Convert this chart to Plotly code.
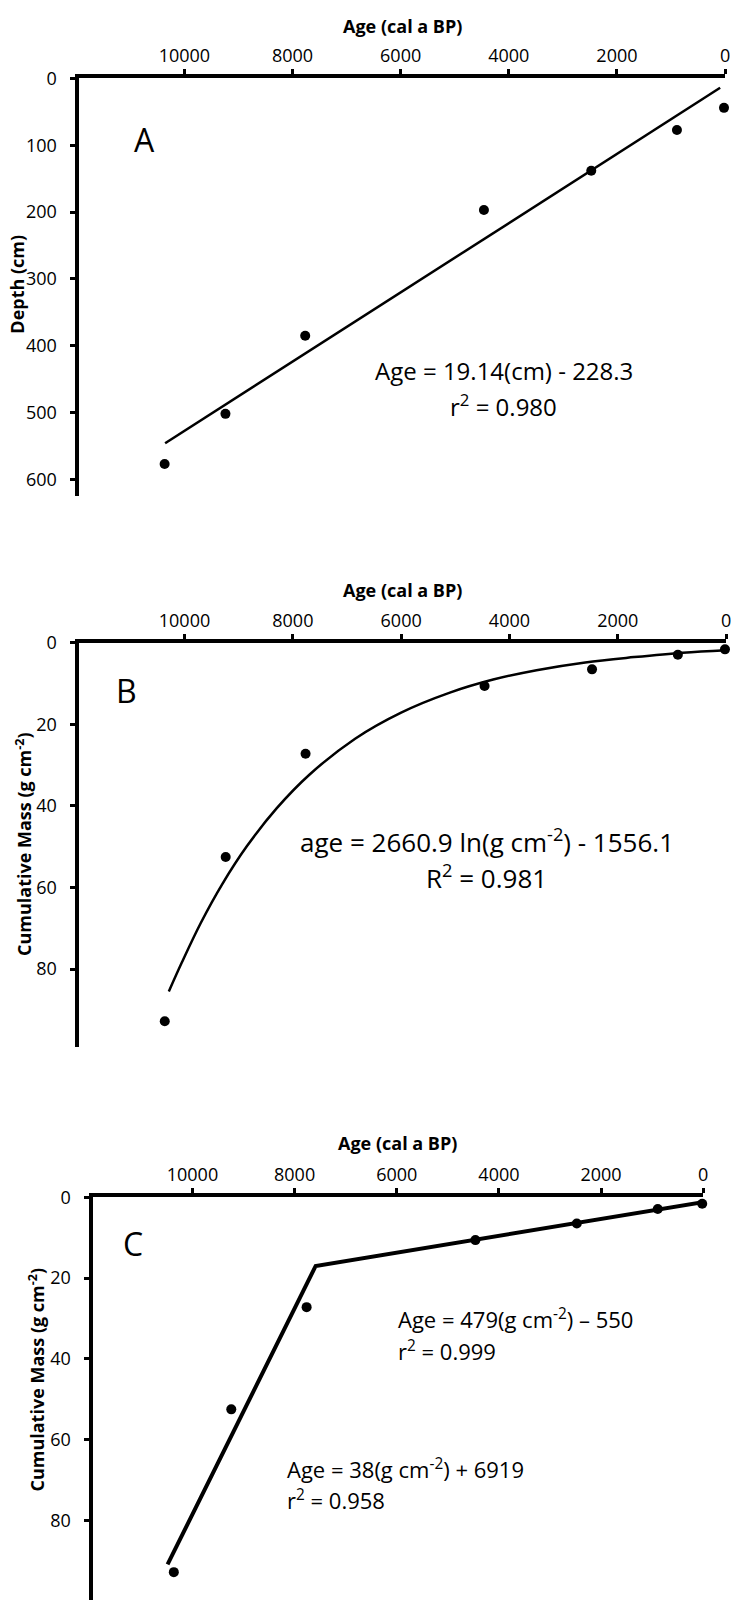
import plotly.graph_objects as go

# ---------------- data ----------------
ages = [10365, 9240, 7765, 4460, 2475, 890, 20]          # cal a BP
depth_cm = [577, 502, 385, 197, 138, 77, 44]              # panel A
cum_mass = [92.8, 52.5, 27.2, 10.6, 6.5, 2.9, 1.6]        # panels B and C

# panel A: linear fit line (end points)
fitA_age = [10356, 91]
fitA_depth = [546, 14]

# panel B: logarithmic trend curve
fitB_age = [10290, 10050, 9700, 9300, 8850, 8300, 7700, 6850, 6000,
            5100, 4300, 3500, 2600, 1700, 800, 0]
fitB_mass = [85.5, 78.4, 68.7, 59.1, 49.9, 40.6, 32.4, 23.5, 17.1,
             12.2, 9.0, 6.7, 4.8, 3.5, 2.4, 1.8]

# panel C: two-segment fit
fitC_age = [10487, 7588, -40]
fitC_mass = [90.9, 17.0, 1.1]

x_tickvals = [10000, 8000, 6000, 4000, 2000, 0]
yA_tickvals = [0, 100, 200, 300, 400, 500, 600]
yBC_tickvals = [0, 20, 40, 60, 80]

# ---------------- layout helpers ----------------
W, H = 741, 1600
FONT = "Open Sans"


def px_x(p):
    return p / W


def px_y(p):
    return 1 - p / H


fig = go.Figure()

mk = dict(color="black", size=10)

# Panel A
fig.add_trace(go.Scatter(x=fitA_age, y=fitA_depth, mode="lines",
                         line=dict(color="black", width=2.5),
                         xaxis="x", yaxis="y", showlegend=False))
fig.add_trace(go.Scatter(x=ages, y=depth_cm, mode="markers", marker=mk,
                         cliponaxis=False, xaxis="x", yaxis="y", showlegend=False))
# Panel B
fig.add_trace(go.Scatter(x=fitB_age, y=fitB_mass, mode="lines",
                         line=dict(color="black", width=2.5, shape="spline",
                                   smoothing=1.0),
                         xaxis="x2", yaxis="y2", showlegend=False))
fig.add_trace(go.Scatter(x=ages, y=cum_mass, mode="markers", marker=mk,
                         cliponaxis=False, xaxis="x2", yaxis="y2", showlegend=False))
# Panel C
fig.add_trace(go.Scatter(x=fitC_age, y=fitC_mass, mode="lines",
                         line=dict(color="black", width=4),
                         xaxis="x3", yaxis="y3", showlegend=False))
fig.add_trace(go.Scatter(x=ages, y=cum_mass, mode="markers", marker=mk,
                         cliponaxis=False, xaxis="x3", yaxis="y3", showlegend=False))

tickfont = dict(family=FONT, size=18, color="black")


def xaxis_cfg(left, right, anchor):
    return dict(domain=[px_x(left), px_x(right)], range=[11940, 0],
                autorange=False, side="top", anchor=anchor,
                tickvals=x_tickvals, ticktext=[str(v) for v in x_tickvals],
                showline=True, linecolor="black", linewidth=4,
                ticks="outside", ticklen=5, tickwidth=3, tickcolor="black",
                showgrid=False, zeroline=False, tickfont=tickfont)


def yaxis_cfg(top, bottom, rng, tickvals, anchor):
    return dict(domain=[px_y(bottom), px_y(top)], range=rng, autorange=False,
                anchor=anchor, tickvals=tickvals,
                ticktext=[str(v) for v in tickvals],
                showline=True, linecolor="black", linewidth=4,
                ticks="outside", ticklen=5, tickwidth=3, tickcolor="black",
                showgrid=False, zeroline=False, tickfont=tickfont,
                ticklabelstandoff=10)


fig.update_layout(
    width=W, height=H,
    margin=dict(l=0, r=0, t=0, b=0),
    paper_bgcolor="white", plot_bgcolor="white",
    font=dict(family=FONT, color="black"),
    xaxis=xaxis_cfg(80, 730, "y"),
    yaxis=yaxis_cfg(66, 487, [625, 0], yA_tickvals, "x"),
    xaxis2=xaxis_cfg(80, 731, "y2"),
    yaxis2=yaxis_cfg(635, 1042, [99, 0], yBC_tickvals, "x2"),
    xaxis3=xaxis_cfg(94, 708, "y3"),
    yaxis3=yaxis_cfg(1194, 1600, [99.7, 0], yBC_tickvals, "x3"),
)

ann = []


def text(x, y, s, size, xanchor="center", bold=False, angle=0, align="center"):
    ann.append(dict(x=px_x(x), y=px_y(y), xref="paper", yref="paper",
                    text=("<b>%s</b>" % s) if bold else s, showarrow=False,
                    xanchor=xanchor, yanchor="middle", textangle=angle,
                    align=align,
                    font=dict(family=FONT, size=size, color="black")))


# axis titles
text(405, 13, "Age (cal a BP)", 18, bold=True)
text(405, 582, "Age (cal a BP)", 18, bold=True)
text(400, 1139, "Age (cal a BP)", 18, bold=True)
text(17, 273, "Depth (cm)", 18, bold=True, angle=-90)
text(24, 838, "Cumulative Mass (g cm<sup>-2</sup>)", 18, bold=True, angle=-90)
text(37, 1378, "Cumulative Mass (g cm<sup>-2</sup>)", 18, bold=True, angle=-90)

# panel letters
text(145, 128, "A", 32)
text(127, 683, "B", 32)
text(134, 1241, "C", 32)

# equations
text(507, 360, "Age = 19.14(cm) - 228.3", 24)
text(507, 396, "r<sup>2</sup> = 0.980", 24)
text(490, 835, "age = 2660.9 ln(g cm<sup>-2</sup>) - 1556.1", 26)
text(490, 871, "R<sup>2</sup> = 0.981", 26)
text(399, 1316, "Age = 479(g cm<sup>-2</sup>) \u2013 550", 22, xanchor="left")
text(399, 1348, "r<sup>2</sup> = 0.999", 22, xanchor="left")
text(287, 1467, "Age = 38(g cm<sup>-2</sup>) + 6919", 22, xanchor="left")
text(287, 1499, "r<sup>2</sup> = 0.958", 22, xanchor="left")

fig.update_layout(annotations=ann)

fig.write_html("out.html",
               config={"displayModeBar": False},
               post_script="document.body.style.margin='0';"
                           "document.body.style.overflow='hidden';")
